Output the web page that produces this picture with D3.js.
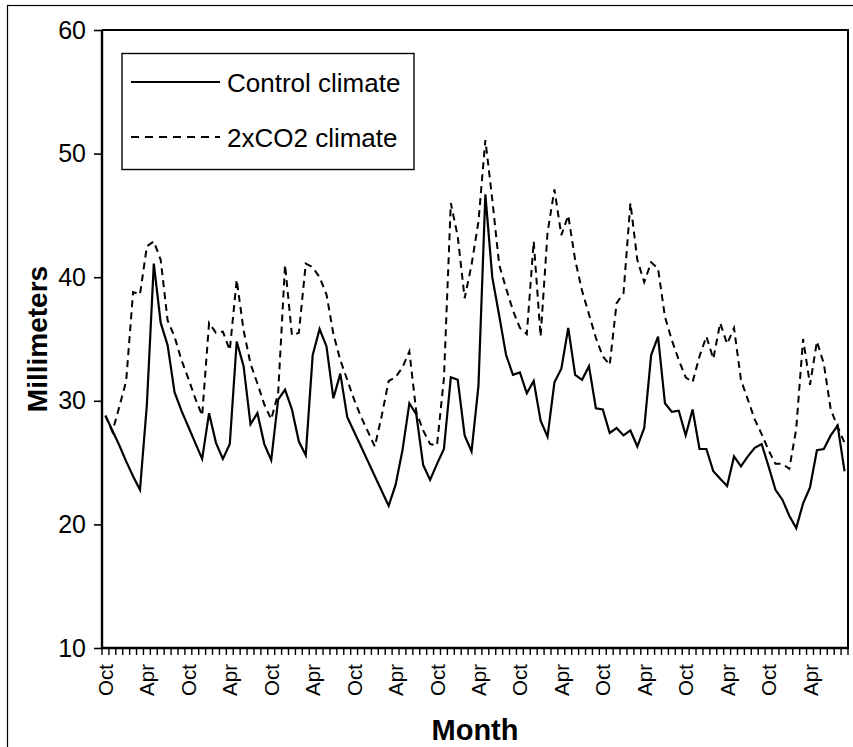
<!DOCTYPE html>
<html>
<head>
<meta charset="utf-8">
<script src="https://cdn.jsdelivr.net/npm/d3@7/dist/d3.min.js"></script>
<style>
  html, body { margin: 0; padding: 0; background: #fff; }
  svg { display: block; font-family: "Liberation Sans", Arial, sans-serif; }
</style>
</head>
<body>
<svg id="chart" width="853" height="747"></svg>
<script>
// ---- data ----
const monthCycle = ["Oct","Nov","Dec","Jan","Feb","Mar","Apr","May","Jun","Jul","Aug","Sep"];
const nYears = 9;
const categories = d3.range(nYears * 12).map(i => monthCycle[i % 12]);
const shownTickLabels = ["Oct", "Apr"];
const yTicks = [10, 20, 30, 40, 50, 60];
const seriesNames = ["Control climate", "2xCO2 climate"];

const controlClimate = [
  28.8, 27.6, 26.4, 25.1, 23.9, 22.8, 29.7, 41.1, 36.3, 34.5,
  30.7, 29.2, 27.9, 26.6, 25.3, 29.0, 26.6, 25.3, 26.5, 34.8,
  32.8, 28.1, 29.0, 26.5, 25.2, 30.1, 30.9, 29.3, 26.7, 25.6,
  33.7, 35.8, 34.4, 30.2, 32.2, 28.7, 27.5, 26.3, 25.1, 23.9,
  22.7, 21.5, 23.2, 26.0, 29.8, 28.9, 24.8, 23.6, 24.9, 26.1,
  31.9, 31.7, 27.2, 25.9, 31.2, 46.7, 40.0, 36.9, 33.7, 32.1,
  32.3, 30.6, 31.6, 28.4, 27.1, 31.5, 32.6, 35.9, 32.1, 31.7,
  32.8, 29.4, 29.3, 27.4, 27.8, 27.2, 27.6, 26.3, 27.8, 33.7,
  35.2, 29.8, 29.1, 29.2, 27.2, 29.3, 26.1, 26.1, 24.3, 23.7,
  23.1, 25.5, 24.7, 25.5, 26.2, 26.5, 24.7, 22.8, 22.0, 20.7,
  19.7, 21.7, 23.0, 26.0, 26.1, 27.2, 28.0, 24.3
];

const co2Climate = [
  28.8, 27.5, 29.5, 31.6, 38.8, 38.6, 42.5, 42.9, 41.4, 36.5,
  35.2, 33.3, 31.8, 30.2, 28.8, 36.3, 35.5, 35.6, 34.1, 39.8,
  35.7, 33.0, 31.4, 29.7, 28.5, 30.6, 41.0, 35.3, 35.5, 41.1,
  40.8, 40.0, 38.6, 35.4, 33.3, 31.7, 30.1, 28.7, 27.5, 26.3,
  28.8, 31.6, 31.9, 32.7, 34.0, 29.1, 27.6, 26.5, 26.4, 31.8,
  46.0, 43.3, 38.3, 41.0, 44.5, 51.1, 46.3, 41.0, 39.1, 37.3,
  35.9, 35.4, 42.9, 35.2, 43.6, 47.1, 43.4, 45.0, 41.4, 38.9,
  37.0, 35.1, 33.6, 32.9, 37.9, 38.7, 46.0, 41.4, 39.6, 41.2,
  40.7, 36.8, 34.9, 33.3, 31.9, 31.5, 33.6, 35.2, 33.4, 36.3,
  34.6, 35.9, 31.7, 30.1, 28.5, 27.3, 26.0, 24.9, 24.9, 24.5,
  27.7, 35.0, 31.3, 34.8, 33.0, 29.3, 27.9, 26.6
];

// ---- layout ----
const svg = d3.select("#chart");
const plot = { left: 102, right: 848, top: 30, bottom: 648 };
const idx = d3.range(categories.length);

const x = d3.scaleBand().domain(idx).range([plot.left, plot.right]).padding(0);
const y = d3.scaleLinear().domain([10, 60]).range([plot.bottom, plot.top]);
const cx = i => x(i) + x.bandwidth() / 2;

// outer chart frame
svg.append("rect")
  .attr("x", 7.5).attr("y", 5.5)
  .attr("width", 900).attr("height", 800)
  .attr("fill", "none").attr("stroke", "#000").attr("stroke-width", 1.2);

// plot area frame (top & right)
svg.append("path")
  .attr("d", `M${plot.left},${plot.top}H${plot.right}V${plot.bottom}`)
  .attr("fill", "none").attr("stroke", "#000").attr("stroke-width", 2);

// y axis
const yAxis = d3.axisLeft(y).tickValues(yTicks).tickSize(8).tickPadding(8).tickFormat(d3.format("d"));
const gy = svg.append("g").attr("transform", `translate(${plot.left},0)`).call(yAxis);
gy.select(".domain").attr("stroke-width", 2.4).attr("d", `M0,${plot.top}V${plot.bottom}`);
gy.selectAll(".tick line").attr("stroke-width", 1.6);
gy.selectAll(".tick text").attr("font-size", 25).attr("font-family", "Liberation Sans, Arial, sans-serif").attr("fill", "#000");

// x axis: ticks at every category boundary
const boundaries = d3.range(categories.length + 1).map(k => plot.left + k * x.bandwidth());
const gx = svg.append("g");
gx.append("line")
  .attr("x1", plot.left - 1).attr("x2", plot.right + 1)
  .attr("y1", plot.bottom).attr("y2", plot.bottom)
  .attr("stroke", "#000").attr("stroke-width", 2.4);
gx.selectAll("line.tk").data(boundaries).join("line")
  .attr("class", "tk")
  .attr("x1", d => d).attr("x2", d => d)
  .attr("y1", plot.bottom).attr("y2", plot.bottom + 7)
  .attr("stroke", "#000").attr("stroke-width", 1.4);

// x tick labels (every 6 months)
const labelled = idx.filter(i => shownTickLabels.includes(categories[i]) && i % 6 === 0);
gx.selectAll("text.xl").data(labelled).join("text")
  .attr("class", "xl")
  .attr("transform", i => `translate(${cx(i) + 7.5},${plot.bottom + 16}) rotate(-90)`)
  .attr("text-anchor", "end")
  .attr("font-size", 20.5)
  .attr("fill", "#000")
  .text(i => categories[i]);

// axis titles
svg.append("text")
  .attr("transform", `translate(47,${(plot.top + plot.bottom) / 2}) rotate(-90)`)
  .attr("text-anchor", "middle")
  .attr("font-size", 28).attr("font-weight", "bold")
  .text("Millimeters");

svg.append("text")
  .attr("x", (plot.left + plot.right) / 2).attr("y", 740)
  .attr("text-anchor", "middle")
  .attr("font-size", 29).attr("font-weight", "bold")
  .text("Month");

// lines
const line = d3.line().x((d, i) => cx(i)).y(d => y(d));
svg.append("path").datum(co2Climate)
  .attr("d", line).attr("fill", "none")
  .attr("stroke", "#000").attr("stroke-width", 2)
  .attr("stroke-dasharray", "7,5");
svg.append("path").datum(controlClimate)
  .attr("d", line).attr("fill", "none")
  .attr("stroke", "#000").attr("stroke-width", 2.2)
  .attr("stroke-linejoin", "miter");

// legend
const lg = svg.append("g");
lg.append("rect")
  .attr("x", 122).attr("y", 53.5).attr("width", 292).attr("height", 116)
  .attr("fill", "#fff").attr("stroke", "#000").attr("stroke-width", 1.4);
const legendRows = [
  { name: seriesNames[0], dash: null, y: 82 },
  { name: seriesNames[1], dash: "8,6", y: 137 }
];
legendRows.forEach(r => {
  lg.append("line")
    .attr("x1", 131).attr("x2", 220).attr("y1", r.y).attr("y2", r.y)
    .attr("stroke", "#000").attr("stroke-width", 2)
    .attr("stroke-dasharray", r.dash);
  lg.append("text")
    .attr("x", 227).attr("y", r.y + 10)
    .attr("font-size", 26).attr("fill", "#000")
    .text(r.name);
});
</script>
</body>
</html>
